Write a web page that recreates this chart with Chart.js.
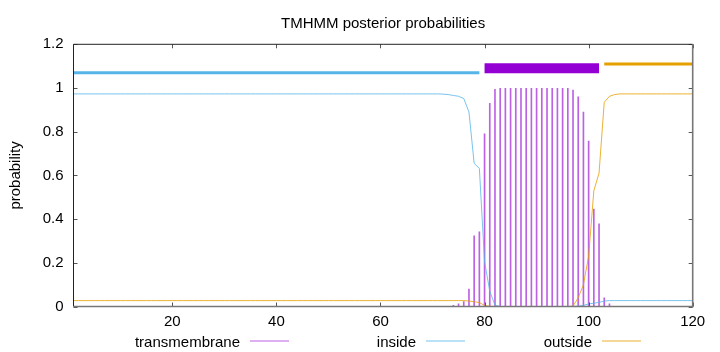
<!DOCTYPE html>
<html><head><meta charset="utf-8">
<script src="https://cdn.jsdelivr.net/npm/chart.js@4.4.1/dist/chart.umd.min.js"></script>
<style>html,body{margin:0;padding:0;background:#fff}#wrap{width:720px;height:352px}</style>
</head><body><div id="wrap"><canvas id="c" width="720" height="352"></canvas></div>
<script>
const chartTitle = 'TMHMM posterior probabilities';
const yAxisLabel = 'probability';
const legendNames = ['transmembrane', 'inside', 'outside'];

const positions = [
  1,2,3,4,5,6,7,8,9,10, 11,12,13,14,15,16,17,18,19,20,
  21,22,23,24,25,26,27,28,29,30, 31,32,33,34,35,36,37,38,39,40,
  41,42,43,44,45,46,47,48,49,50, 51,52,53,54,55,56,57,58,59,60,
  61,62,63,64,65,66,67,68,69,70, 71,72,73,74,75,76,77,78,79,80,
  81,82,83,84,85,86,87,88,89,90, 91,92,93,94,95,96,97,98,99,100,
  101,102,103,104,105,106,107,108,109,110, 111,112,113,114,115,116,117,118,119,120
];

const inside = [
  0.973,0.973,0.973,0.973,0.973,0.973,0.973,0.973,0.973,0.973,
  0.973,0.973,0.973,0.973,0.973,0.973,0.973,0.973,0.973,0.973,
  0.973,0.973,0.973,0.973,0.973,0.973,0.973,0.973,0.973,0.973,
  0.973,0.973,0.973,0.973,0.973,0.973,0.973,0.973,0.973,0.973,
  0.973,0.973,0.973,0.973,0.973,0.973,0.973,0.973,0.973,0.973,
  0.973,0.973,0.973,0.973,0.973,0.973,0.973,0.973,0.973,0.973,
  0.973,0.973,0.973,0.973,0.973,0.973,0.973,0.973,0.973,0.973,
  0.973,0.972,0.970,0.966,0.962,0.952,0.890,0.655,0.632,0.205,
  0.070,0.006,0,0,0,0,0,0,0,0,
  0,0,0,0,0,0,0,0.002,0.005,0.012,
  0.015,0.019,0.025,0.027,0.027,0.027,0.027,0.027,0.027,0.027,
  0.027,0.027,0.027,0.027,0.027,0.027,0.027,0.027,0.027,0.027
];

const outside = [
  0.027,0.027,0.027,0.027,0.027,0.027,0.027,0.027,0.027,0.027,
  0.027,0.027,0.027,0.027,0.027,0.027,0.027,0.027,0.027,0.027,
  0.027,0.027,0.027,0.027,0.027,0.027,0.027,0.027,0.027,0.027,
  0.027,0.027,0.027,0.027,0.027,0.027,0.027,0.027,0.027,0.027,
  0.027,0.027,0.027,0.027,0.027,0.027,0.027,0.027,0.027,0.027,
  0.027,0.027,0.027,0.027,0.027,0.027,0.027,0.027,0.027,0.027,
  0.027,0.027,0.027,0.027,0.027,0.027,0.027,0.027,0.027,0.027,
  0.027,0.027,0.027,0.027,0.027,0.027,0.025,0.022,0.018,0.005,
  0.001,0,0,0,0,0,0,0,0,0,
  0,0,0,0,0,0,0.002,0.04,0.10,0.23,
  0.53,0.61,0.935,0.962,0.970,0.973,0.973,0.973,0.973,0.973,
  0.973,0.973,0.973,0.973,0.973,0.973,0.973,0.973,0.973,0.973
];

const transmembrane = [
  0,0,0,0,0,0,0,0,0,0, 0,0,0,0,0,0,0,0,0,0,
  0,0,0,0,0,0,0,0,0,0, 0,0,0,0,0,0,0,0,0,0,
  0,0,0,0,0,0,0,0,0,0, 0,0,0,0,0,0,0,0,0,0,
  0,0,0,0,0,0,0,0,0,0,
  0,0,0,0.005,0.012,0.022,0.08,0.323,0.342,0.79,
  0.93,0.994,0.999,0.999,0.999,0.999,0.999,0.999,0.999,0.999,
  0.999,0.999,0.999,0.999,0.999,0.998,0.99,0.96,0.89,0.757,
  0.446,0.378,0.04,0.012,0,0,0,0,0,0,
  0,0,0,0,0,0,0,0,0,0
];

// predicted topology segments (start, end) and bar levels
const segInside = [1, 79];
const segTM = [80, 102];
const segOutside = [103, 120];
const segLevels = [1.07, 1.09, 1.11];

const xTicks = [20, 40, 60, 80, 100, 120];
const yTicks = [0, 0.2, 0.4, 0.6, 0.8, 1, 1.2];

const purpleImp = 'rgba(148,0,211,0.62)';
const blueLine = 'rgba(86,180,233,0.8)';
const orangeLine = 'rgba(230,159,0,0.8)';
const FONT = '"Liberation Sans", Arial, sans-serif';

const decor = {
  id: 'decor',
  afterDraw(chart) {
    const c = chart.ctx, a = chart.chartArea;
    const xs = chart.scales.x, ys = chart.scales.y;
    c.save();
    // ticks (inward, mirrored)
    c.strokeStyle = '#555'; c.lineWidth = 1;
    c.beginPath();
    xTicks.forEach(v => {
      const px = Math.round(xs.getPixelForValue(v)) + 0.5;
      c.moveTo(px, a.bottom); c.lineTo(px, a.bottom - 4);
      c.moveTo(px, a.top); c.lineTo(px, a.top + 4);
    });
    yTicks.forEach(v => {
      const py = Math.round(ys.getPixelForValue(v)) + 0.5;
      c.moveTo(a.left, py); c.lineTo(a.left + 4, py);
      c.moveTo(a.right, py); c.lineTo(a.right - 4, py);
    });
    c.stroke();
    // border
    c.strokeStyle = '#222'; c.lineWidth = 1;
    c.beginPath();
    c.moveTo(a.left, a.bottom); c.lineTo(a.left, a.top); c.lineTo(a.right, a.top);
    c.stroke();
    c.strokeStyle = '#777'; c.lineWidth = 1.6;
    c.beginPath();
    c.moveTo(a.right, a.top); c.lineTo(a.right, a.bottom); c.lineTo(a.left, a.bottom);
    c.stroke();
    // title
    c.fillStyle = '#000';
    c.font = '15px ' + FONT;
    c.textAlign = 'center'; c.textBaseline = 'alphabetic';
    c.fillText(chartTitle, (a.left + a.right) / 2, 27.7);
    // y label
    c.save();
    c.translate(20, (a.top + a.bottom) / 2);
    c.rotate(-Math.PI / 2);
    c.textAlign = 'center'; c.textBaseline = 'alphabetic';
    c.fillText(yAxisLabel, 0, 0);
    c.restore();
    // legend
    const lgX = [240, 416, 592];
    const lgCol = [purpleImp, blueLine, orangeLine];
    legendNames.forEach((n, i) => {
      c.fillStyle = '#000';
      c.textAlign = 'right';
      c.fillText(n, lgX[i], 346.5);
      c.strokeStyle = lgCol[i]; c.lineWidth = 1;
      c.beginPath(); c.moveTo(lgX[i] + 10, 341); c.lineTo(lgX[i] + 49, 341); c.stroke();
    });
    c.restore();
  }
};

const seg = (s, lvl) => [{x: s[0], y: lvl}, {x: s[1], y: lvl}];

new Chart(document.getElementById('c'), {
  type: 'line',
  data: {
    datasets: [
      {label: 'inside region', data: seg(segInside, segLevels[0]), borderColor: '#56b4e9', borderWidth: 3, pointRadius: 0, borderCapStyle: 'butt'},
      {label: 'TM region', data: seg(segTM, segLevels[1]), borderColor: '#9400d3', borderWidth: 10, pointRadius: 0, borderCapStyle: 'butt'},
      {label: 'outside region', data: seg(segOutside, segLevels[2]), borderColor: '#e69f00', borderWidth: 3, pointRadius: 0, borderCapStyle: 'butt'},
      {label: 'inside', data: positions.map((x, i) => ({x, y: inside[i]})), borderColor: blueLine, borderWidth: 1, pointRadius: 0, tension: 0},
      {label: 'outside', data: positions.map((x, i) => ({x, y: outside[i]})), borderColor: orangeLine, borderWidth: 1, pointRadius: 0, tension: 0},
      {type: 'bar', label: 'transmembrane', data: positions.map((x, i) => ({x, y: transmembrane[i]})), backgroundColor: purpleImp, borderWidth: 0, barThickness: 1}
    ]
  },
  options: {
    responsive: false, animation: false, devicePixelRatio: 1,
    layout: {padding: {top: 44.3, right: 27.3, left: 0, bottom: 0}},
    plugins: {legend: {display: false}, tooltip: {enabled: false}, title: {display: false}},
    scales: {
      x: {
        type: 'linear', min: 1, max: 120, offset: false,
        grid: {display: false, drawTicks: false}, border: {display: false},
        afterBuildTicks: s => { s.ticks = xTicks.map(v => ({value: v})); },
        afterFit: s => { s.height = 45.5; },
        ticks: {padding: 6, color: '#000', maxRotation: 0, autoSkip: false, font: {family: FONT, size: 15},
                callback: v => String(v)}
      },
      y: {
        type: 'linear', min: 0, max: 1.2,
        grid: {display: false, drawTicks: false}, border: {display: false},
        afterBuildTicks: s => { s.ticks = yTicks.map(v => ({value: v})); },
        afterFit: s => { s.width = 73.5; },
        ticks: {padding: 10, color: '#000', autoSkip: false, font: {family: FONT, size: 15},
                callback: v => String(Math.round(v * 10) / 10)}
      }
    }
  },
  plugins: [decor]
});
</script>
</body></html>
